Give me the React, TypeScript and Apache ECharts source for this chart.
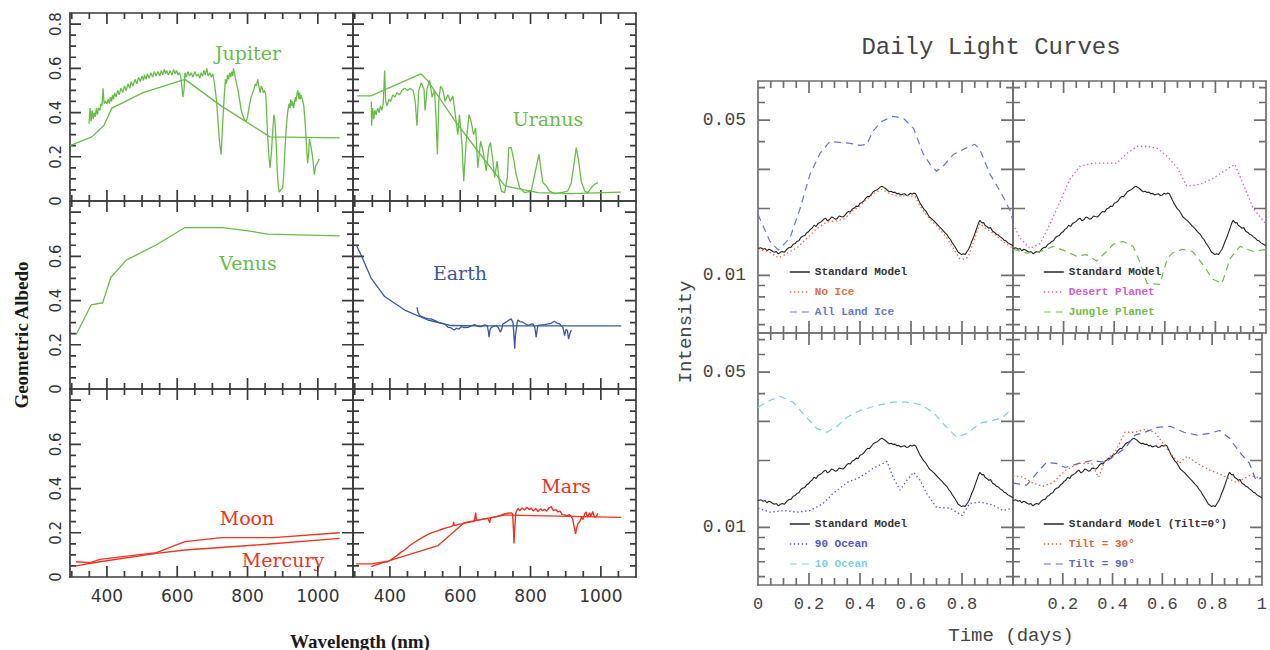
import React, { useEffect, useRef } from "react";
import * as echarts from "echarts";

// ---------------- Left figure: geometric albedo spectra ----------------
const WL_MIN = 295;
const WL_MAX = 1100;
const ALB_MIN = 0;
const ALB_MAX = 0.85;
const WL_MAJOR = [400, 600, 800, 1000];
const WL_MINOR = [300, 350, 450, 500, 550, 650, 700, 750, 850, 900, 950, 1050];
const WL_LABELS = [400, 600, 800, 1000];
const ALB_MAJOR = [0.2, 0.4, 0.6, 0.8];
const ALB_MINOR = [0.05, 0.1, 0.15, 0.25, 0.3, 0.35, 0.45, 0.5, 0.55, 0.65, 0.7, 0.75];
const ALB_LABELS_TOP = [0, 0.2, 0.4, 0.6, 0.8];
const ALB_LABELS_LOWER = [0, 0.2, 0.4, 0.6];

const jupiterModel = [[295,0.25],[357,0.29],[391,0.34],[414,0.42],[503,0.49],[622,0.55],[725,0.43],[854,0.30],[863,0.29],[1062,0.285]];
const jupiterObs = [[349,0.35],[352,0.42],[355,0.36],[358,0.41],[361,0.37],[364,0.40],[367,0.38],[370,0.42],[373,0.39],[376,0.42],[380,0.41],[383,0.44],[386,0.43],[389,0.51],[392,0.44],[396,0.45],[400,0.44],[404,0.46],[407,0.44],[410,0.47],[413,0.45],[416,0.48],[419,0.46],[422,0.49],[426,0.47],[431,0.50],[435,0.48],[440,0.51],[445,0.49],[450,0.52],[455,0.50],[460,0.53],[465,0.51],[469,0.54],[474,0.52],[480,0.55],[485,0.53],[490,0.56],[495,0.54],[500,0.565],[504,0.545],[507,0.57],[511,0.55],[515,0.575],[520,0.555],[525,0.58],[530,0.56],[535,0.585],[540,0.565],[545,0.585],[550,0.565],[555,0.59],[559,0.57],[563,0.595],[567,0.575],[570,0.59],[575,0.57],[580,0.59],[585,0.57],[590,0.595],[594,0.575],[598,0.59],[602,0.57],[606,0.58],[610,0.565],[613,0.52],[616,0.47],[619,0.50],[622,0.58],[626,0.56],[630,0.585],[635,0.565],[640,0.58],[645,0.56],[650,0.585],[655,0.565],[660,0.575],[664,0.555],[668,0.58],[672,0.565],[676,0.59],[680,0.57],[684,0.60],[688,0.565],[693,0.58],[697,0.56],[701,0.575],[704,0.55],[707,0.52],[712,0.45],[716,0.36],[720,0.27],[725,0.21],[730,0.375],[734,0.48],[737,0.55],[740,0.53],[743,0.57],[746,0.55],[749,0.58],[752,0.56],[755,0.585],[758,0.565],[760,0.60],[765,0.56],[769,0.53],[773,0.50],[778,0.45],[782,0.41],[787,0.385],[791,0.37],[796,0.36],[800,0.38],[805,0.43],[810,0.47],[815,0.49],[819,0.51],[822,0.53],[825,0.52],[829,0.55],[832,0.52],[836,0.49],[839,0.52],[842,0.51],[845,0.49],[848,0.50],[852,0.48],[857,0.30],[861,0.20],[864,0.15],[868,0.22],[871,0.30],[875,0.39],[878,0.36],[882,0.24],[885,0.12],[888,0.06],[890,0.04],[895,0.05],[900,0.06],[903,0.12],[906,0.22],[910,0.33],[914,0.40],[918,0.44],[921,0.42],[923,0.46],[926,0.43],[928,0.45],[931,0.42],[933,0.44],[936,0.47],[938,0.45],[941,0.49],[943,0.50],[946,0.46],[948,0.49],[950,0.46],[952,0.48],[956,0.46],[960,0.43],[964,0.35],[967,0.27],[971,0.17],[974,0.22],[976,0.28],[980,0.25],[985,0.20],[990,0.12],[994,0.16],[998,0.17],[1004,0.19]];
const uranusModel = [[306,0.475],[346,0.475],[488,0.575],[508,0.543],[585,0.362],[650,0.226],[727,0.068],[821,0.038],[915,0.033],[1057,0.04]];
const uranusObs = [[347,0.45],[348,0.34],[351,0.42],[354,0.37],[357,0.41],[361,0.39],[365,0.42],[369,0.40],[373,0.43],[377,0.41],[381,0.44],[385,0.59],[388,0.45],[392,0.43],[397,0.46],[402,0.45],[408,0.48],[414,0.47],[420,0.49],[427,0.48],[434,0.50],[442,0.51],[450,0.50],[458,0.51],[466,0.50],[472,0.45],[477,0.34],[482,0.50],[489,0.535],[497,0.505],[500,0.41],[506,0.51],[513,0.545],[520,0.47],[527,0.50],[531,0.38],[535,0.21],[539,0.45],[544,0.52],[551,0.50],[557,0.45],[565,0.48],[572,0.45],[579,0.475],[586,0.39],[593,0.30],[598,0.39],[605,0.256],[610,0.09],[617,0.27],[625,0.39],[631,0.36],[638,0.30],[644,0.33],[650,0.15],[658,0.27],[665,0.226],[674,0.136],[681,0.24],[686,0.264],[693,0.18],[698,0.106],[705,0.18],[711,0.09],[717,0.045],[726,0.038],[734,0.106],[738,0.241],[745,0.241],[753,0.181],[759,0.121],[769,0.06],[783,0.038],[802,0.045],[816,0.151],[824,0.211],[830,0.136],[835,0.083],[845,0.068],[854,0.045],[869,0.033],[887,0.038],[906,0.045],[916,0.083],[925,0.181],[930,0.241],[937,0.181],[944,0.09],[954,0.045],[963,0.038],[973,0.06],[982,0.075],[992,0.083]];
const venusModel = [[312,0.244],[355,0.38],[388,0.39],[411,0.504],[456,0.584],[494,0.614],[541,0.652],[622,0.73],[729,0.73],[797,0.716],[858,0.70],[1062,0.692]];
const earthModel = [[304,0.652],[318,0.606],[347,0.50],[385,0.418],[442,0.357],[508,0.312],[574,0.287],[650,0.285],[1058,0.285]];
const earthObs = [[477,0.37],[480,0.345],[484,0.335],[491,0.327],[500,0.322],[508,0.318],[517,0.317],[527,0.31],[537,0.302],[546,0.298],[556,0.294],[565,0.28],[574,0.276],[579,0.27],[583,0.267],[590,0.275],[596,0.27],[603,0.282],[612,0.278],[622,0.279],[631,0.285],[641,0.291],[650,0.283],[660,0.282],[670,0.29],[677,0.285],[680,0.26],[682,0.234],[685,0.27],[689,0.279],[695,0.283],[702,0.287],[708,0.278],[714,0.257],[718,0.27],[721,0.294],[728,0.3],[736,0.309],[745,0.317],[750,0.3],[752,0.264],[755,0.182],[757,0.24],[759,0.264],[762,0.3],[764,0.312],[770,0.305],[778,0.302],[785,0.295],[793,0.287],[800,0.292],[807,0.294],[812,0.28],[816,0.234],[819,0.27],[821,0.287],[830,0.29],[840,0.291],[850,0.294],[859,0.297],[868,0.306],[875,0.298],[883,0.294],[888,0.285],[892,0.279],[897,0.241],[901,0.27],[905,0.264],[908,0.226],[912,0.25],[916,0.267]];
const moonModel = [[312,0.069],[352,0.065],[380,0.08],[541,0.11],[622,0.16],[726,0.178],[873,0.178],[1062,0.20]];
const mercuryModel = [[312,0.05],[380,0.069],[541,0.107],[622,0.122],[854,0.148],[1062,0.175]];
const marsModel = [[304,0.059],[347,0.059],[394,0.072],[537,0.142],[612,0.246],[726,0.28],[1058,0.27]];
const marsObs = [[347,0.047],[352,0.05],[360,0.055],[370,0.06],[382,0.066],[394,0.069],[405,0.08],[418,0.095],[430,0.11],[442,0.122],[455,0.14],[468,0.155],[480,0.167],[494,0.18],[508,0.193],[522,0.202],[537,0.21],[550,0.217],[562,0.223],[574,0.228],[580,0.232],[581,0.25],[583,0.232],[593,0.237],[603,0.24],[617,0.245],[631,0.25],[640,0.252],[644,0.291],[646,0.255],[655,0.258],[667,0.262],[679,0.265],[684,0.245],[686,0.266],[695,0.27],[707,0.275],[716,0.28],[725,0.285],[736,0.288],[745,0.29],[749,0.285],[752,0.2],[753,0.152],[755,0.22],[758,0.29],[764,0.31],[770,0.3],[776,0.312],[783,0.303],[790,0.315],[796,0.305],[802,0.311],[808,0.298],[815,0.31],[821,0.296],[828,0.308],[834,0.3],[840,0.306],[846,0.298],[852,0.312],[859,0.318],[865,0.3],[872,0.305],[878,0.294],[884,0.298],[890,0.282],[897,0.281],[903,0.275],[910,0.282],[916,0.273],[920,0.26],[923,0.234],[926,0.215],[928,0.195],[931,0.22],[935,0.243],[940,0.25],[945,0.27],[949,0.26],[954,0.285],[958,0.294],[962,0.27],[968,0.29],[972,0.275],[977,0.296],[982,0.27],[987,0.273],[992,0.288]];

// ---------------- Right figure: daily light curves ----------------
const T_MIN = 0;
const T_MAX = 1;
const T_MAJOR = [0.2, 0.4, 0.6, 0.8];
const T_MINOR = [0.05, 0.1, 0.15, 0.25, 0.3, 0.35, 0.45, 0.5, 0.55, 0.65, 0.7, 0.75, 0.85, 0.9, 0.95];
const T_LABELS_LEFT = [0, 0.2, 0.4, 0.6, 0.8];
const T_LABELS_RIGHT = [0.2, 0.4, 0.6, 0.8, 1];
const I_MIN = 0.0055;
const I_MAX = 0.075;
const I_MAJOR = [0.01, 0.02, 0.03, 0.05];
const I_MINOR = [0.006, 0.007, 0.008, 0.009, 0.04, 0.06, 0.07];
const I_LABELS = [0.01, 0.05];

const standardModel = [[0,0.0132],[0.012,0.0133],[0.02,0.0131],[0.028,0.0132],[0.035,0.0129],[0.043,0.0131],[0.05,0.013],[0.058,0.0128],[0.065,0.0127],[0.072,0.0128],[0.08,0.0125],[0.088,0.0127],[0.095,0.0128],[0.103,0.0127],[0.113,0.0131],[0.12,0.0133],[0.13,0.0134],[0.138,0.0138],[0.145,0.0139],[0.152,0.0142],[0.16,0.0143],[0.168,0.0148],[0.175,0.015],[0.183,0.0151],[0.19,0.0155],[0.198,0.0157],[0.205,0.0161],[0.212,0.0163],[0.22,0.0168],[0.228,0.0166],[0.235,0.0171],[0.243,0.0173],[0.25,0.0175],[0.258,0.0179],[0.265,0.0181],[0.272,0.0176],[0.28,0.0178],[0.288,0.0183],[0.295,0.0182],[0.303,0.0179],[0.31,0.018],[0.318,0.0185],[0.325,0.0184],[0.333,0.0183],[0.34,0.0186],[0.348,0.0191],[0.355,0.0194],[0.362,0.0193],[0.37,0.0199],[0.378,0.0201],[0.385,0.0205],[0.393,0.0204],[0.4,0.0211],[0.408,0.0213],[0.415,0.0216],[0.422,0.0222],[0.43,0.0227],[0.437,0.0226],[0.445,0.0232],[0.452,0.0238],[0.46,0.0241],[0.468,0.0243],[0.475,0.0247],[0.48,0.025],[0.486,0.0252],[0.493,0.0249],[0.5,0.0246],[0.508,0.0241],[0.515,0.0238],[0.522,0.0239],[0.53,0.0236],[0.537,0.0237],[0.545,0.0233],[0.552,0.0234],[0.56,0.023],[0.567,0.0232],[0.575,0.0233],[0.582,0.0229],[0.59,0.023],[0.597,0.0234],[0.605,0.0232],[0.612,0.0235],[0.618,0.0233],[0.627,0.0222],[0.635,0.0212],[0.643,0.0205],[0.65,0.0199],[0.658,0.0195],[0.665,0.0189],[0.672,0.0183],[0.68,0.018],[0.69,0.0176],[0.7,0.0171],[0.71,0.0166],[0.72,0.0162],[0.73,0.0157],[0.74,0.0153],[0.748,0.0148],[0.755,0.0145],[0.762,0.014],[0.768,0.0137],[0.775,0.0133],[0.78,0.013],[0.785,0.0127],[0.79,0.0126],[0.798,0.0124],[0.805,0.0125],[0.812,0.0124],[0.82,0.0128],[0.826,0.0131],[0.832,0.0136],[0.838,0.0142],[0.845,0.0148],[0.851,0.0155],[0.857,0.0162],[0.864,0.0171],[0.87,0.0177],[0.875,0.0174],[0.88,0.0172],[0.885,0.0173],[0.89,0.0168],[0.897,0.0166],[0.905,0.0163],[0.912,0.0164],[0.92,0.0158],[0.928,0.0156],[0.935,0.0153],[0.942,0.0152],[0.95,0.0149],[0.958,0.0147],[0.965,0.0144],[0.972,0.0143],[0.98,0.014],[0.99,0.0138],[1,0.0136]];
const noIce = [[0,0.0131],[0.03,0.0129],[0.05,0.0126],[0.08,0.012],[0.1,0.0123],[0.12,0.0127],[0.153,0.0133],[0.19,0.0146],[0.23,0.0162],[0.27,0.0174],[0.31,0.0176],[0.34,0.018],[0.37,0.0195],[0.4,0.0205],[0.43,0.0222],[0.46,0.0236],[0.486,0.0244],[0.518,0.0232],[0.55,0.0227],[0.584,0.0228],[0.616,0.0227],[0.635,0.0206],[0.662,0.0186],[0.7,0.0167],[0.74,0.0148],[0.765,0.0133],[0.79,0.0119],[0.81,0.0118],[0.824,0.0121],[0.844,0.014],[0.87,0.0171],[0.895,0.0162],[0.922,0.0155],[0.96,0.0142],[1,0.0132]];
const allLandIce = [[0,0.0188],[0.047,0.0142],[0.08,0.013],[0.125,0.0147],[0.165,0.02],[0.204,0.0285],[0.243,0.0354],[0.282,0.0401],[0.32,0.0397],[0.36,0.0393],[0.4,0.0385],[0.427,0.0389],[0.45,0.0445],[0.486,0.0494],[0.53,0.052],[0.57,0.051],[0.61,0.0459],[0.647,0.0354],[0.675,0.0316],[0.7,0.0294],[0.726,0.031],[0.766,0.035],[0.805,0.0369],[0.85,0.0389],[0.87,0.0369],[0.91,0.0285],[0.95,0.0239],[0.99,0.0194],[1,0.0175]];
const desertPlanet = [[0,0.017],[0.028,0.0147],[0.067,0.0132],[0.107,0.0139],[0.146,0.017],[0.186,0.0215],[0.225,0.0271],[0.265,0.031],[0.316,0.032],[0.37,0.032],[0.41,0.032],[0.45,0.0354],[0.49,0.0381],[0.53,0.0381],[0.57,0.0373],[0.61,0.0343],[0.65,0.0304],[0.687,0.0252],[0.74,0.0257],[0.79,0.0273],[0.845,0.03],[0.877,0.0316],[0.91,0.0257],[0.95,0.02],[1,0.017]];
const junglePlanet = [[0,0.0131],[0.055,0.0126],[0.107,0.0128],[0.16,0.0135],[0.212,0.0128],[0.25,0.0122],[0.29,0.0124],[0.33,0.0116],[0.37,0.0128],[0.396,0.0138],[0.435,0.0142],[0.475,0.0135],[0.5,0.0116],[0.53,0.0092],[0.58,0.0091],[0.61,0.0119],[0.63,0.0126],[0.67,0.0131],[0.71,0.0128],[0.75,0.0112],[0.79,0.0096],[0.826,0.0092],[0.858,0.0119],[0.897,0.0135],[0.95,0.0128],[1,0.0131]];
const ocean90 = [[0,0.0122],[0.047,0.0117],[0.1,0.0119],[0.153,0.0117],[0.204,0.0119],[0.255,0.0128],[0.294,0.0142],[0.349,0.0159],[0.4,0.0168],[0.45,0.0184],[0.506,0.0198],[0.53,0.0168],[0.557,0.0147],[0.584,0.0163],[0.61,0.0177],[0.635,0.0163],[0.662,0.0142],[0.7,0.0123],[0.753,0.0122],[0.8,0.0113],[0.83,0.0128],[0.87,0.013],[0.922,0.0126],[0.96,0.0119],[1,0.0122]];
const ocean10 = [[0,0.0347],[0.047,0.0373],[0.086,0.0389],[0.137,0.0366],[0.19,0.0313],[0.23,0.0279],[0.27,0.0268],[0.31,0.0285],[0.349,0.0313],[0.4,0.0336],[0.467,0.0354],[0.53,0.0366],[0.58,0.0366],[0.635,0.0358],[0.686,0.033],[0.74,0.0282],[0.78,0.0254],[0.82,0.0265],[0.87,0.0294],[0.922,0.0303],[0.96,0.0313],[0.996,0.0343]];
const tilt30 = [[0,0.0171],[0.04,0.0168],[0.08,0.0158],[0.12,0.0153],[0.16,0.0159],[0.212,0.0181],[0.265,0.0194],[0.316,0.0194],[0.344,0.0168],[0.37,0.02],[0.41,0.0218],[0.45,0.0268],[0.49,0.0268],[0.53,0.0276],[0.57,0.0268],[0.593,0.0247],[0.632,0.0215],[0.668,0.0194],[0.7,0.0209],[0.74,0.0194],[0.79,0.0181],[0.845,0.0171],[0.897,0.0159],[0.95,0.0171],[1,0.0166]];
const tilt90 = [[0,0.0158],[0.055,0.0155],[0.095,0.0175],[0.134,0.0196],[0.174,0.0194],[0.21,0.0186],[0.265,0.0194],[0.316,0.02],[0.37,0.0196],[0.41,0.0211],[0.45,0.0227],[0.49,0.026],[0.53,0.0268],[0.58,0.0282],[0.632,0.0285],[0.687,0.0268],[0.74,0.026],[0.79,0.0265],[0.83,0.0273],[0.87,0.0252],[0.91,0.0218],[0.95,0.0194],[0.976,0.0163],[1,0.0168]];

// ---------------- styling ----------------
const GREEN = "#68bd48";
const BLUE = "#3a55a6";
const RED = "#ee3322";
const DOT = [1.4, 2.6];
const DASH = [7, 5];
const TICK_W = 1.7;

const log10 = (v: number) => Math.log10(v);

type Rect = { left: number; top: number; width: number; height: number };
type Ax = { min: number; max: number; major: number[]; minor: number[]; color: string; lineWidth: number;
  majorLen: number; minorLen: number; fmt: (v: number) => string; font: string; fontSize: number;
  labelColor: string; margin: number; rotate: number };
type Panel = { xi: number; yi: number; xs: Ax; ys: Ax; rect: Rect };

function buildOption() {
  const grids: any[] = [];
  const xAxes: any[] = [];
  const yAxes: any[] = [];
  const series: any[] = [];

  const frameAxis = (gridIndex: number, position: string, s: Ax, labels: number[]) => ({
    type: "value", gridIndex, position, min: s.min, max: s.max,
    axisLine: { show: true, onZero: false, lineStyle: { color: s.color, width: s.lineWidth } },
    axisTick: { show: false },
    axisLabel: labels.length
      ? { show: true, customValues: labels, formatter: s.fmt, margin: s.margin, rotate: s.rotate, fontFamily: s.font, fontSize: s.fontSize, color: s.labelColor }
      : { show: false },
    splitLine: { show: false },
  });

  // inward tick marks on all four frame sides, drawn as short segments through the panel's own axes
  const tickLines = (p: Panel) => {
    const { xs, ys, rect } = p;
    const dyPerPx = (ys.max - ys.min) / rect.height;
    const dxPerPx = (xs.max - xs.min) / rect.width;
    const data: any[] = [];
    const xt = [...xs.major.map((v) => [v, xs.majorLen]), ...xs.minor.map((v) => [v, xs.minorLen])];
    const yt = [...ys.major.map((v) => [v, ys.majorLen]), ...ys.minor.map((v) => [v, ys.minorLen])];
    xt.forEach(([v, len]) => {
      data.push([v, ys.min], [v, ys.min + len * dyPerPx], ["-", "-"]);
      data.push([v, ys.max], [v, ys.max - len * dyPerPx], ["-", "-"]);
    });
    yt.forEach(([v, len]) => {
      data.push([xs.min, v], [xs.min + len * dxPerPx, v], ["-", "-"]);
      data.push([xs.max, v], [xs.max - len * dxPerPx, v], ["-", "-"]);
    });
    series.push({
      type: "line", name: "frame ticks", xAxisIndex: p.xi, yAxisIndex: p.yi, data,
      symbol: "none", silent: true, connectNulls: false, z: 3,
      lineStyle: { color: xs.color, width: TICK_W },
    });
  };

  const addPanel = (rect: Rect, xs: Ax, ys: Ax, xLabels: number[], yLabels: number[]) => {
    const g = grids.length;
    grids.push({ ...rect });
    const xi = xAxes.length;
    xAxes.push(frameAxis(g, "bottom", xs, xLabels));
    xAxes.push(frameAxis(g, "top", xs, []));
    const yi = yAxes.length;
    yAxes.push(frameAxis(g, "left", ys, yLabels));
    yAxes.push(frameAxis(g, "right", ys, []));
    const p = { xi, yi, xs, ys, rect };
    tickLines(p);
    return p;
  };

  const addLine = (ax: Panel, name: string, data: number[][], color: string, width: number, type: any = "solid") => {
    series.push({
      type: "line", name, xAxisIndex: ax.xi, yAxisIndex: ax.yi, data,
      symbol: "none", smooth: false, silent: true,
      lineStyle: { color, width, type }, itemStyle: { color },
    });
  };

  // ----- left figure -----
  const wl: Ax = { min: WL_MIN, max: WL_MAX, major: WL_MAJOR, minor: WL_MINOR, color: "#3a3a3a", lineWidth: 1.7,
    majorLen: 11, minorLen: 6, fmt: (v) => String(v), font: "DejaVu Sans", fontSize: 17, labelColor: "#333", margin: 10, rotate: 0 };
  const alb: Ax = { min: ALB_MIN, max: ALB_MAX, major: ALB_MAJOR, minor: ALB_MINOR, color: "#3a3a3a", lineWidth: 1.7,
    majorLen: 11, minorLen: 6, fmt: (v) => String(v), font: "DejaVu Sans", fontSize: 15, labelColor: "#333", margin: 7, rotate: 90 };
  const LW = 283, LH = 188;
  const pJup = addPanel({ left: 70, top: 13, width: LW, height: LH }, wl, alb, [], ALB_LABELS_TOP);
  const pUra = addPanel({ left: 353, top: 13, width: LW, height: LH }, wl, alb, [], []);
  const pVen = addPanel({ left: 70, top: 201, width: LW, height: LH }, wl, alb, [], ALB_LABELS_LOWER);
  const pEar = addPanel({ left: 353, top: 201, width: LW, height: LH }, wl, alb, [], []);
  const pMoo = addPanel({ left: 70, top: 389, width: LW, height: LH }, wl, alb, WL_LABELS, ALB_LABELS_LOWER);
  const pMar = addPanel({ left: 353, top: 389, width: LW, height: LH }, wl, alb, WL_LABELS, []);

  addLine(pJup, "Jupiter model", jupiterModel, GREEN, 1.3);
  addLine(pJup, "Jupiter", jupiterObs, GREEN, 1.3);
  addLine(pUra, "Uranus model", uranusModel, GREEN, 1.3);
  addLine(pUra, "Uranus", uranusObs, GREEN, 1.3);
  addLine(pVen, "Venus", venusModel, GREEN, 1.3);
  addLine(pEar, "Earth model", earthModel, BLUE, 1.3);
  addLine(pEar, "Earth", earthObs, BLUE, 1.3);
  addLine(pMoo, "Moon", moonModel, RED, 1.3);
  addLine(pMoo, "Mercury", mercuryModel, RED, 1.3);
  addLine(pMar, "Mars model", marsModel, RED, 1.3);
  addLine(pMar, "Mars", marsObs, RED, 1.4);

  // ----- right figure (intensity plotted on a log10 scale) -----
  const tx: Ax = { min: T_MIN, max: T_MAX, major: T_MAJOR, minor: T_MINOR, color: "#6e6e6e", lineWidth: 1.7,
    majorLen: 12, minorLen: 7, fmt: (v) => String(v), font: "Liberation Mono", fontSize: 17, labelColor: "#444", margin: 11, rotate: 0 };
  const iy: Ax = { min: log10(I_MIN), max: log10(I_MAX), major: I_MAJOR.map(log10), minor: I_MINOR.map(log10), color: "#6e6e6e", lineWidth: 1.7,
    majorLen: 12, minorLen: 7, fmt: (v) => String(Number(Math.pow(10, v).toPrecision(1))), font: "Liberation Mono", fontSize: 18,
    labelColor: "#444", margin: 12, rotate: 0 };
  const RH = 252;
  const pTL = addPanel({ left: 758, top: 81, width: 255, height: RH }, tx, iy, [], I_LABELS.map(log10));
  const pTR = addPanel({ left: 1013, top: 81, width: 253, height: RH }, tx, iy, [], []);
  const pBL = addPanel({ left: 758, top: 333, width: 255, height: RH }, tx, iy, T_LABELS_LEFT, I_LABELS.map(log10));
  const pBR = addPanel({ left: 1013, top: 333, width: 253, height: RH }, tx, iy, T_LABELS_RIGHT, []);

  const lg = (d: number[][]) => d.map(([t, v]) => [t, log10(v)]);
  const C_ICE = "#ee6a40", C_LAND = "#6677cc", C_DES = "#d75bc8", C_JUN = "#6cbf45";
  const C_O90 = "#4f55d0", C_O10 = "#7dcfe4", C_T30 = "#f0603a", C_T90 = "#5a68cc";

  addLine(pTL, "Standard Model", lg(standardModel), "#222", 1.1);
  addLine(pTL, "No Ice", lg(noIce), C_ICE, 1.3, DOT);
  addLine(pTL, "All Land Ice", lg(allLandIce), C_LAND, 1.2, DASH);
  addLine(pTR, "Standard Model", lg(standardModel), "#222", 1.1);
  addLine(pTR, "Desert Planet", lg(desertPlanet), C_DES, 1.3, DOT);
  addLine(pTR, "Jungle Planet", lg(junglePlanet), C_JUN, 1.2, DASH);
  addLine(pBL, "Standard Model", lg(standardModel), "#222", 1.1);
  addLine(pBL, "90 Ocean", lg(ocean90), C_O90, 1.3, DOT);
  addLine(pBL, "10 Ocean", lg(ocean10), C_O10, 1.2, DASH);
  addLine(pBR, "Standard Model (Tilt=0°)", lg(standardModel), "#222", 1.1);
  addLine(pBR, "Tilt = 30°", lg(tilt30), C_T30, 1.3, DOT);
  addLine(pBR, "Tilt = 90°", lg(tilt90), C_T90, 1.2, DASH);

  const legendBase = {
    orient: "vertical", itemWidth: 20, itemHeight: 14, itemGap: 6, selectedMode: false,
    itemStyle: { opacity: 0 },
    textStyle: { fontFamily: "Liberation Mono", fontSize: 11, fontWeight: "bold", lineHeight: 14 },
  };
  const legItem = (name: string, color: string, type: any, width: number) => ({
    name, textStyle: { color }, itemStyle: { opacity: 0 }, lineStyle: { color, type, width },
  });
  const legend = [
    { ...legendBase, left: 784, top: 260, data: [legItem("Standard Model", "#333", "solid", 1.6), legItem("No Ice", C_ICE, DOT, 1.3), legItem("All Land Ice", C_LAND, DASH, 1.2)] },
    { ...legendBase, left: 1038, top: 260, data: [legItem("Standard Model", "#333", "solid", 1.6), legItem("Desert Planet", C_DES, DOT, 1.3), legItem("Jungle Planet", C_JUN, DASH, 1.2)] },
    { ...legendBase, left: 784, top: 512, data: [legItem("Standard Model", "#333", "solid", 1.6), legItem("90 Ocean", C_O90, DOT, 1.3), legItem("10 Ocean", C_O10, DASH, 1.2)] },
    { ...legendBase, left: 1038, top: 512, data: [legItem("Standard Model (Tilt=0°)", "#333", "solid", 1.6), legItem("Tilt = 30°", C_T30, DOT, 1.3), legItem("Tilt = 90°", C_T90, DASH, 1.2)] },
  ];

  const label = (text: string, x: number, y: number, color: string, font = "DejaVu Serif", size = 19, extra: any = {}) => ({
    type: "text", x, y, silent: true, ...extra,
    style: { text, fill: color, fontFamily: font, fontSize: size, textAlign: "center", textVerticalAlign: "middle", ...(extra.style || {}) },
  });

  const graphic = [
    label("Jupiter", 248, 53, GREEN),
    label("Uranus", 548, 119, GREEN),
    label("Venus", 248, 263, GREEN),
    label("Earth", 460, 273, BLUE),
    label("Moon", 247, 518, RED),
    label("Mercury", 283, 560, RED),
    label("Mars", 566, 486, RED),
    { type: "text", x: 21, y: 335, rotation: Math.PI / 2, silent: true,
      style: { text: "Geometric Albedo", fill: "#1a1a1a", fontFamily: "Liberation Serif", fontWeight: "bold", fontSize: 19, textAlign: "center", textVerticalAlign: "middle" } },
    label("Wavelength (nm)", 360, 641, "#1a1a1a", "Liberation Serif", 19, { style: { fontWeight: "bold" } }),
    label("Daily Light Curves", 991, 47, "#444", "Liberation Mono", 24),
    { type: "text", x: 686, y: 332, rotation: Math.PI / 2, silent: true,
      style: { text: "Intensity", fill: "#444", fontFamily: "Liberation Mono", fontSize: 19, textAlign: "center", textVerticalAlign: "middle" } },
    label("Time (days)", 1011, 636, "#444", "Liberation Mono", 19),
  ];

  return {
    animation: false,
    backgroundColor: "#ffffff",
    grid: grids,
    xAxis: xAxes,
    yAxis: yAxes,
    series,
    legend,
    graphic,
  };
}

export default function App() {
  const ref = useRef<HTMLDivElement>(null);
  useEffect(() => {
    const chart = echarts.init(ref.current!, undefined, { renderer: "svg" });
    chart.setOption(buildOption() as any);
    return () => chart.dispose();
  }, []);
  return <div ref={ref} style={{ position: "absolute", left: 0, top: 0, width: 1270, height: 650 }} />;
}
